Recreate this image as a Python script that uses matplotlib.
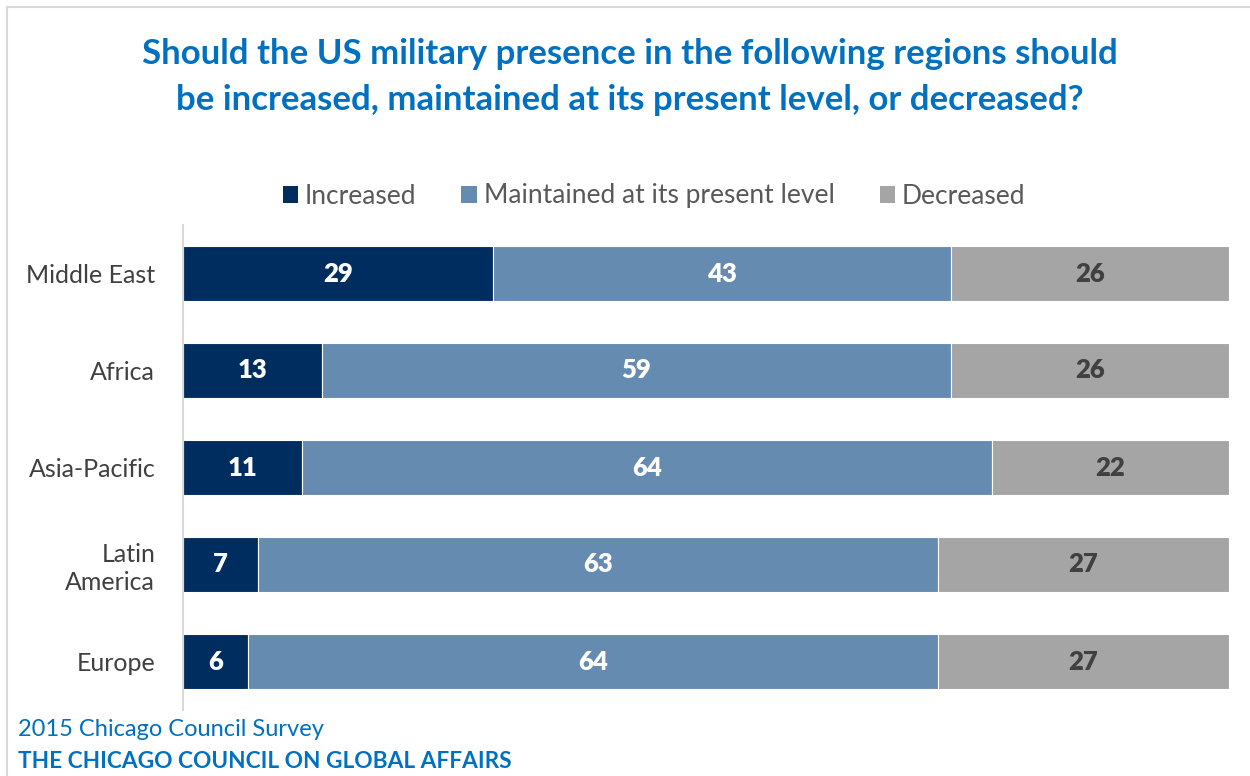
import matplotlib.pyplot as plt
from matplotlib.patches import Patch, Rectangle
import numpy as np

regions = ["Middle East", "Africa", "Asia-Pacific", "Latin\nAmerica", "Europe"]
series_names = ["Increased", "Maintained at its present level", "Decreased"]
increased = [29, 13, 11, 7, 6]
maintained = [43, 59, 64, 63, 64]
decreased = [26, 26, 22, 27, 27]

colors = ["#002D5F", "#668BB1", "#A5A5A5"]
label_colors = ["white", "white", "#404040"]
blue = "#0070C0"
font = "Lato"

W, H = 1250, 776
fig = plt.figure(figsize=(W / 100, H / 100), dpi=100)
fig.patch.set_facecolor("white")

# Light frame around the chart area
fig.patches.append(Rectangle((7 / W, -0.1), 1.2, 1 - 7 / H + 0.1, transform=fig.transFigure,
                             fill=False, edgecolor="#D9D9D9", linewidth=1.5))

ax = fig.add_axes([183 / W, 1 - 710 / H, (1229 - 183) / W, (710 - 225) / H])

data = np.array([increased, maintained, decreased], dtype=float)
totals = data.sum(axis=0)
shares = data / totals * 100  # 100% stacked

y = np.arange(len(regions))
left = np.zeros(len(regions))
for i, name in enumerate(series_names):
    ax.barh(y, shares[i], left=left, height=0.57, color=colors[i],
            edgecolor="white", linewidth=0.8, label=name)
    for j in range(len(regions)):
        ax.text(left[j] + shares[i][j] / 2, y[j], f"{int(data[i][j])}",
                ha="center", va="center", color=label_colors[i],
                fontsize=18.5, fontweight="heavy", family=font)
    left += shares[i]

ax.set_xlim(0, 100)
ax.set_ylim(len(regions) - 0.5, -0.5)
ax.set_yticks(y)
ax.set_yticklabels(regions, fontsize=18, color="#404040", family=font, linespacing=1.25)
ax.tick_params(axis="y", length=0, pad=20)
ax.set_xticks([])
for s in ["top", "right", "bottom"]:
    ax.spines[s].set_visible(False)
ax.spines["left"].set_color("#D9D9D9")
ax.spines["left"].set_linewidth(1.5)

fig.text(630 / W, 1 - 77 / H,
         "Should the US military presence in the following regions should\n"
         "be increased, maintained at its present level, or decreased?",
         ha="center", va="center", color=blue, fontsize=25, fontweight="bold",
         family=font, linespacing=1.5)

handles = [Patch(facecolor=c, edgecolor="none") for c in colors]
fig.legend(handles, series_names, loc="center", bbox_to_anchor=(654 / W, 1 - 196 / H),
           ncol=3, frameon=False, handlelength=0.6, handleheight=0.6,
           handletextpad=0.25, columnspacing=1.7,
           prop={"family": font, "size": 19}, labelcolor="#595959")

fig.text(18 / W, 1 - 730 / H, "2015 Chicago Council Survey", ha="left", va="center",
         color=blue, fontsize=17, family=font)
fig.text(18 / W, 1 - 762 / H, "THE CHICAGO COUNCIL ON GLOBAL AFFAIRS", ha="left",
         va="center", color=blue, fontsize=16.3, fontweight="bold", family=font)

fig.savefig("out.png", dpi=100, facecolor="white")
